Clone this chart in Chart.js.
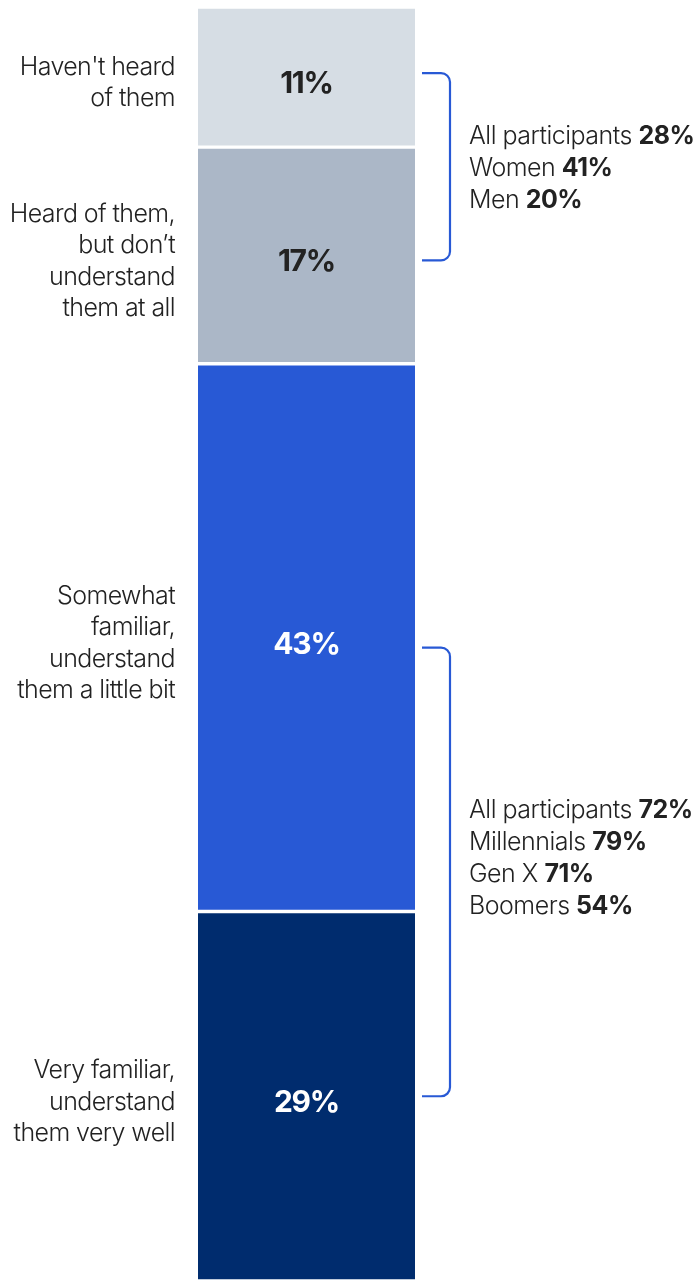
<!DOCTYPE html>
<html>
<head>
<meta charset="utf-8">
<script src="https://cdn.jsdelivr.net/npm/chart.js@4.4.1/dist/chart.umd.min.js"></script>
<style>
  html, body { margin: 0; padding: 0; background: #fff; }
  #wrap { width: 699px; height: 1281px; }
</style>
</head>
<body>
<div id="wrap"><canvas id="awareChart" width="699" height="1281"></canvas></div>
<script>
// familiarity answers, top to bottom
var answers = [
  ["Haven't heard", "of them"],
  ["Heard of them,", "but don\u2019t", "understand", "them at all"],
  ["Somewhat", "familiar,", "understand", "them a little bit"],
  ["Very familiar,", "understand", "them very well"]
]
var shares = [11, 17, 43, 29]
var barColors = ["#d6dde4", "#abb7c7", "#2859d5", "#002c6e"]
var valueColors = ["#222222", "#222222", "#ffffff", "#ffffff"]

// group breakdowns for the two brackets
var lowGroups = ["All participants", "Women", "Men"]
var lowValues = [28, 41, 20]
var highGroups = ["All participants", "Millennials", "Gen X", "Boomers"]
var highValues = [72, 79, 71, 54]

var FONT = "Inter, 'Noto Sans', sans-serif"
var INK = "#222222"
var BRACKET = "#2859d5"

function segMid(chart, i) {
  var bar = chart.getDatasetMeta(i).data[0]
  return (bar.y + bar.base) / 2
}

function drawBracket(ctx, x0, x1, yTop, yBot) {
  var r = 9
  ctx.save()
  ctx.strokeStyle = BRACKET
  ctx.lineWidth = 2.2
  ctx.beginPath()
  ctx.moveTo(x0, yTop)
  ctx.lineTo(x1 - r, yTop)
  ctx.arcTo(x1, yTop, x1, yTop + r, r)
  ctx.lineTo(x1, yBot - r)
  ctx.arcTo(x1, yBot, x1 - r, yBot, r)
  ctx.lineTo(x0, yBot)
  ctx.stroke()
  ctx.restore()
}

function drawGroupText(ctx, x, yMid, names, values) {
  var lh = 32
  var y0 = yMid - (names.length - 1) * lh / 2
  ctx.save()
  ctx.textBaseline = "middle"
  ctx.textAlign = "left"
  ctx.fillStyle = INK
  ctx.letterSpacing = "-0.5px"
  names.forEach(function (n, i) {
    var y = y0 + i * lh
    ctx.font = "300 25px " + FONT
    ctx.fillText(n + " ", x, y)
    var w = ctx.measureText(n + " ").width
    ctx.font = "700 25px " + FONT
    ctx.fillText(values[i] + "%", x + w, y)
  })
  ctx.restore()
}

var annotate = {
  id: "annotate",
  afterDatasetsDraw: function (chart) {
    var ctx = chart.ctx
    var area = chart.chartArea
    var cx = (area.left + area.right) / 2

    // value inside each segment, answer text to the left
    shares.forEach(function (v, i) {
      var y = segMid(chart, i) + 6
      ctx.save()
      ctx.textAlign = "center"
      ctx.textBaseline = "middle"
      ctx.fillStyle = valueColors[i]
      ctx.font = "700 30px " + FONT
      ctx.letterSpacing = "-1.2px"
      ctx.fillText(v + "%", cx, y + 1)

      ctx.textAlign = "right"
      ctx.fillStyle = INK
      ctx.font = "300 25px " + FONT
      ctx.letterSpacing = "-0.6px"
      var lines = answers[i]
      var lh = 31.5
      var y0 = y - (lines.length - 1) * lh / 2
      lines.forEach(function (t, k) {
        ctx.fillText(t, area.left - 23, y0 + k * lh)
      })
      ctx.restore()
    })

    // brackets grouping the low and high familiarity answers
    var bx0 = area.right + 7
    var bx1 = area.right + 35
    var a = segMid(chart, 0), b = segMid(chart, 1)
    drawBracket(ctx, bx0, bx1, a - 4, b + 5)
    drawGroupText(ctx, area.right + 54, (a + b) / 2 + 2, lowGroups, lowValues)

    var c = segMid(chart, 2), d = segMid(chart, 3)
    drawBracket(ctx, bx0, bx1, c + 10, d)
    drawGroupText(ctx, area.right + 54, (c + 10 + d) / 2 - 13, highGroups, highValues)
  }
}

var datasets = shares.map(function (v, i) {
  return {
    label: answers[i].join(" "),
    data: [v],
    backgroundColor: barColors[i],
    borderColor: "#ffffff",
    borderWidth: { top: 2, bottom: 2, left: 0, right: 0 },
    borderSkipped: false,
    categoryPercentage: 1,
    barPercentage: 1
  }
})

var ctx = document.getElementById("awareChart").getContext("2d")
window.awareChart = new Chart(ctx, {
  type: "bar",
  data: { labels: [""], datasets: datasets },
  options: {
    responsive: false,
    animation: false,
    layout: { padding: { left: 198, right: 284, top: 7, bottom: 0 } },
    scales: {
      x: { stacked: true, display: false },
      y: { stacked: true, display: false, min: 0, max: 100, reverse: true }
    },
    plugins: {
      legend: { display: false },
      tooltip: { enabled: false }
    }
  },
  plugins: [annotate]
})
</script>
</body>
</html>
